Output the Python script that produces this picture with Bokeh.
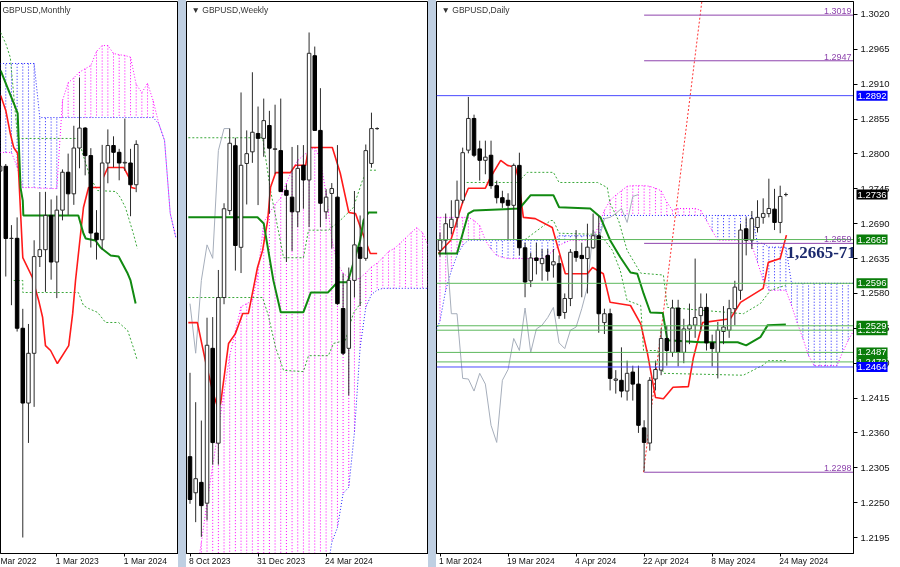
from bokeh.plotting import figure
from bokeh.layouts import row, column
from bokeh.models import Range1d, FixedTicker, Label, Div, PrintfTickFormatter
from bokeh.embed import file_html
from bokeh.resources import INLINE

FONT = "Liberation Sans"
WICK = "#2b2b2b"
RED = "#ff1a1a"
KIJUN = "#118a11"
DASH_G = "#3aa83a"
CHIKOU = "#a6aebb"
SPAN_A = "#ff00ff"
SPAN_B = "#2020ff"
SEP = "#bfcfe2"
LEVEL_G = "#5cb85c"
LEVEL_B = "#4a4aff"
LEVEL_P = "#8e44ad"
BOX_G = "#0a7d0a"

# ---------------- MONTHLY (index 0 = Mar 2023) ----------------
m_first = -10
m_open = [1.2574, 1.2603, 1.2165, 1.2166, 1.1620, 1.1166, 1.1468, 1.2055, 1.2097, 1.2305,
          1.2022, 1.2337, 1.2567, 1.2436, 1.2714, 1.2835, 1.2668, 1.2198, 1.2157, 1.2623,
          1.2729, 1.2688, 1.2623, 1.2623, 1.2491]
m_high = [1.2667, 1.2617, 1.2246, 1.2293, 1.1738, 1.1646, 1.2154, 1.2447, 1.2448, 1.2402,
          1.2425, 1.2584, 1.2680, 1.2849, 1.3142, 1.2841, 1.2713, 1.2337, 1.2733, 1.2827,
          1.2785, 1.2709, 1.2893, 1.2709, 1.2761]
m_low = [1.2155, 1.1934, 1.1760, 1.1600, 1.0350, 1.0924, 1.1143, 1.1992, 1.1841, 1.1915,
         1.1803, 1.2275, 1.2308, 1.2369, 1.2591, 1.2548, 1.2110, 1.2037, 1.2096, 1.2500,
         1.2597, 1.2518, 1.2575, 1.2300, 1.2446]
m_close = [1.2603, 1.2165, 1.2166, 1.1620, 1.1166, 1.1468, 1.2055, 1.2097, 1.2305, 1.2022,
           1.2337, 1.2567, 1.2436, 1.2714, 1.2835, 1.2668, 1.2198, 1.2157, 1.2623, 1.2729,
           1.2688, 1.2623, 1.2627, 1.2491, 1.2736]
m_span_a = [1.2687, 1.2687, 1.2687, 1.2600, 1.2474, 1.2474, 1.2474, 1.2470, 1.2470, 1.2468,
            1.2468, 1.3002, 1.3110, 1.3140, 1.3175, 1.3195, 1.3215, 1.3300, 1.3336, 1.3336,
            1.3288, 1.3280, 1.3276, 1.3265, 1.3100, 1.3050, 1.3106, 1.3000, 1.2860, 1.2760,
            1.2317, 1.2170]
m_span_b = [1.3227, 1.3227, 1.3227, 1.3227, 1.3227, 1.3227, 1.3227, 1.2899, 1.2899, 1.2899,
            1.2899, 1.2899, 1.2899, 1.2899, 1.2899, 1.2899, 1.2899, 1.2899, 1.2899, 1.2899,
            1.2899, 1.2899, 1.2899, 1.2899, 1.2899, 1.2899, 1.2899, 1.2899, 1.2860, 1.2760,
            1.2317, 1.2170]
m_tenkan_x = [-9.9, -9, -8.2, -7.6, -6.9, -6, -4.3, -3.8, -3.2, -2.5, -2, -1.1, 0.1, 2.1, 2.8,
              3.3, 4.2, 4.7, 5.6, 7.7, 8.2, 9, 11.8, 13, 13.1, 13.9]
m_tenkan = [1.3033, 1.2942, 1.2802, 1.2717, 1.2681, 1.2049, 1.1928, 1.1861, 1.1789, 1.1685,
            1.1515, 1.1485, 1.1406, 1.1515, 1.1710, 1.1910, 1.2195, 1.2353, 1.2474, 1.2474,
            1.2535, 1.2596, 1.2596, 1.2517, 1.2474, 1.2468]
m_kijun_x = [-9.9, -8.7, -7.3, -6.9, -6.7, -6.4, -6, -5.9, 3.8, 4.7, 5.1, 6.8, 7.7, 9.5, 10.9,
             12.5, 13, 13.9]
m_kijun = [1.3184, 1.3081, 1.2960, 1.2924, 1.2741, 1.2474, 1.2395, 1.2304, 1.2304, 1.2195,
           1.2165, 1.2153, 1.2110, 1.2062, 1.2056, 1.1952, 1.1910, 1.1770]
m_hl1_x = [-9.9, -9, -8.2, -6.9, 3.8, 4.5, 5.9, 7.2, 10.4, 11.2, 12.1, 13.5, 14.2]
m_hl1 = [1.3415, 1.3348, 1.3263, 1.2772, 1.2772, 1.2687, 1.2535, 1.2456, 1.2450, 1.2414,
         1.2353, 1.2195, 1.2104]
m_hl2_x = [-7.6, -6, -6, 3.8, 4.7, 5.6, 7.2, 8.6, 10.9, 12.5, 13.5, 14.2]
m_hl2 = [1.1910, 1.1910, 1.1837, 1.1837, 1.1758, 1.1740, 1.1716, 1.1655, 1.1655, 1.1606,
         1.1503, 1.1424]
m_ticks = [0, 12]
m_tick_labels = ["1 Mar 2023", "1 Mar 2024"]
m_prev_label = "Mar 2022"

# ---------------- WEEKLY (index 0 = 8 Oct 2023) ----------------
w_open = [1.2200, 1.2141, 1.2158, 1.2124, 1.2377, 1.2222, 1.2460, 1.2602, 1.2708, 1.2542,
          1.2679, 1.2698, 1.2728, 1.2720, 1.2741, 1.2702, 1.2700, 1.2635, 1.2624, 1.2600,
          1.2676, 1.2652, 1.2855, 1.2733, 1.2600, 1.2630, 1.2624, 1.2442, 1.2377, 1.2488,
          1.2542, 1.2524, 1.2679, 1.2736]
w_high = [1.2337, 1.2289, 1.2259, 1.2427, 1.2428, 1.2505, 1.2614, 1.2736, 1.2721, 1.2795,
          1.2733, 1.2828, 1.2772, 1.2785, 1.2765, 1.2775, 1.2785, 1.2645, 1.2706, 1.2709,
          1.2709, 1.2893, 1.2870, 1.2802, 1.2637, 1.2647, 1.2709, 1.2499, 1.2509, 1.2634,
          1.2594, 1.2710, 1.2762, 1.2738]
w_low = [1.2123, 1.2093, 1.2069, 1.2096, 1.2187, 1.2187, 1.2449, 1.2595, 1.2504, 1.2500,
         1.2612, 1.2680, 1.2611, 1.2690, 1.2597, 1.2662, 1.2633, 1.2518, 1.2536, 1.2575,
         1.2605, 1.2575, 1.2733, 1.2575, 1.2588, 1.2540, 1.2448, 1.2366, 1.2300, 1.2460,
         1.2446, 1.2520, 1.2672, 1.2734]
w_close = [1.2130, 1.2164, 1.2120, 1.2382, 1.2223, 1.2460, 1.2605, 1.2712, 1.2545, 1.2676,
           1.2695, 1.2730, 1.2720, 1.2749, 1.2704, 1.2703, 1.2633, 1.2627, 1.2600, 1.2671,
           1.2652, 1.2859, 1.2733, 1.2614, 1.2624, 1.2638, 1.2450, 1.2369, 1.2488, 1.2546,
           1.2524, 1.2700, 1.2736, 1.2736]
w_span_a = [1.1950, 1.2000, 1.2060, 1.2125, 1.2185, 1.2245, 1.2305, 1.2365, 1.2405, 1.2445,
            1.2450, 1.2455, 1.2500, 1.2583, 1.2598, 1.2612, 1.2623, 1.2647, 1.2668, 1.2684,
            1.2692, 1.2700, 1.2705, 1.2684, 1.2630, 1.2555, 1.2515, 1.2500, 1.2492, 1.2488,
            1.2492, 1.2500, 1.2510, 1.2516, 1.2525, 1.2535, 1.2540, 1.2548, 1.2557, 1.2566,
            1.2574, 1.2566, 1.2545, 1.2530]
w_span_b = [1.2000, 1.2000, 1.2000, 1.2000, 1.2000, 1.2000, 1.2000, 1.2000, 1.2000, 1.2000,
            1.2000, 1.2000, 1.2000, 1.2000, 1.2000, 1.2000, 1.2000, 1.2000, 1.2000, 1.2000,
            1.2000, 1.2000, 1.2000, 1.2000, 1.2000, 1.2060, 1.2084, 1.2140, 1.2150, 1.2240,
            1.2378, 1.2444, 1.2465, 1.2472, 1.2475, 1.2475, 1.2475, 1.2475, 1.2475, 1.2475,
            1.2475, 1.2475, 1.2475, 1.2475]
w_tenkan_x = [-0.3, 1.3, 2.7, 4.1, 4.9, 5.4, 6.8, 8, 9.3, 10.3, 11.9, 12.8, 13.7, 14.2, 15.1,
              17.7, 18.6, 20.4, 20.9, 25.1, 26.5, 28, 29.2, 30.4, 31.8, 33]
w_tenkan = [1.2419, 1.2419, 1.2357, 1.2303, 1.2280, 1.2287, 1.2385, 1.2401, 1.2434, 1.2434,
            1.2509, 1.2537, 1.2586, 1.2640, 1.2664, 1.2664, 1.2676, 1.2676, 1.2705, 1.2705,
            1.2663, 1.2599, 1.2597, 1.2566, 1.2532, 1.2532]
w_kijun_x = [-0.3, 11.9, 13, 13.8, 14.7, 16, 20, 21.3, 24.3, 26, 27.8, 28.8, 30, 30.6, 31.5, 33]
w_kijun = [1.2591, 1.2591, 1.2581, 1.2537, 1.2488, 1.2436, 1.2436, 1.2468, 1.2468, 1.2485,
           1.2485, 1.2516, 1.2553, 1.2586, 1.2599, 1.2599]
w_hl1_x = [-0.3, 12.8, 14.2, 16.5, 20, 20.9, 24.4, 26.5, 28.8, 30.4, 31.3, 33]
w_hl1 = [1.2721, 1.2721, 1.2635, 1.2525, 1.2525, 1.2570, 1.2570, 1.2586, 1.2607, 1.2651,
         1.2668, 1.2668]
w_hl2_x = [-0.3, 12.8, 13.8, 15.1, 16.5, 20, 20.9, 24.4, 25.3, 27.4, 28.8, 30.4]
w_hl2 = [1.2460, 1.2460, 1.2431, 1.2378, 1.2341, 1.2339, 1.2365, 1.2365, 1.2385, 1.2390,
         1.2434, 1.2455]
w_ticks = [0, 12, 24]
w_tick_labels = ["8 Oct 2023", "31 Dec 2023", "24 Mar 2024"]

# ---------------- DAILY (index 0 = 1 Mar 2024) ----------------
d_open = [1.2648, 1.2664, 1.2684, 1.2700, 1.2727, 1.2806, 1.2856, 1.2808, 1.2790, 1.2798,
          1.2750, 1.2731, 1.2727, 1.2719, 1.2782, 1.2652, 1.2600, 1.2636, 1.2627, 1.2640,
          1.2625, 1.2627, 1.2550, 1.2572, 1.2646, 1.2640, 1.2635, 1.2652, 1.2671, 1.2534,
          1.2548, 1.2443, 1.2443, 1.2426, 1.2456, 1.2437, 1.2368, 1.2344, 1.2445, 1.2459,
          1.2509, 1.2487, 1.2557, 1.2487, 1.2524, 1.2530, 1.2545, 1.2558, 1.2502, 1.2487,
          1.2520, 1.2522, 1.2556, 1.2585, 1.2682, 1.2664, 1.2684, 1.2700, 1.2706, 1.2713,
          1.2692, 1.2736]
d_high = [1.2676, 1.2706, 1.2727, 1.2758, 1.2810, 1.2890, 1.2862, 1.2821, 1.2821, 1.2821,
          1.2758, 1.2742, 1.2738, 1.2785, 1.2802, 1.2660, 1.2644, 1.2660, 1.2650, 1.2650,
          1.2650, 1.2640, 1.2580, 1.2650, 1.2680, 1.2660, 1.2690, 1.2706, 1.2702, 1.2556,
          1.2556, 1.2459, 1.2495, 1.2474, 1.2466, 1.2466, 1.2380, 1.2448, 1.2474, 1.2525,
          1.2529, 1.2570, 1.2570, 1.2540, 1.2564, 1.2635, 1.2580, 1.2580, 1.2515, 1.2535,
          1.2560, 1.2570, 1.2600, 1.2690, 1.2700, 1.2710, 1.2727, 1.2730, 1.2761, 1.2745,
          1.2750, 1.2739]
d_low = [1.2638, 1.2642, 1.2673, 1.2684, 1.2722, 1.2801, 1.2795, 1.2758, 1.2768, 1.2745,
         1.2722, 1.2715, 1.2664, 1.2666, 1.2640, 1.2574, 1.2590, 1.2610, 1.2600, 1.2600,
         1.2605, 1.2540, 1.2540, 1.2560, 1.2630, 1.2574, 1.2580, 1.2650, 1.2518, 1.2516,
         1.2427, 1.2422, 1.2416, 1.2411, 1.2411, 1.2360, 1.2299, 1.2332, 1.2427, 1.2451,
         1.2466, 1.2480, 1.2465, 1.2470, 1.2500, 1.2510, 1.2520, 1.2490, 1.2465, 1.2446,
         1.2500, 1.2510, 1.2530, 1.2570, 1.2640, 1.2650, 1.2676, 1.2690, 1.2700, 1.2680,
         1.2675, 1.2733]
d_close = [1.2664, 1.2690, 1.2697, 1.2727, 1.2802, 1.2856, 1.2798, 1.2790, 1.2795, 1.2750,
           1.2731, 1.2723, 1.2719, 1.2782, 1.2652, 1.2598, 1.2636, 1.2632, 1.2635, 1.2615,
           1.2630, 1.2545, 1.2572, 1.2645, 1.2637, 1.2635, 1.2653, 1.2671, 1.2548, 1.2548,
           1.2446, 1.2445, 1.2426, 1.2454, 1.2437, 1.2372, 1.2345, 1.2443, 1.2460, 1.2509,
           1.2490, 1.2557, 1.2487, 1.2524, 1.2530, 1.2542, 1.2558, 1.2502, 1.2493, 1.2522,
           1.2527, 1.2556, 1.2590, 1.2680, 1.2664, 1.2698, 1.2700, 1.2706, 1.2714, 1.2692,
           1.2733, 1.2736]
d_cloud_first = -1
d_span_a = [1.2700, 1.2700, 1.2700, 1.2700, 1.2700, 1.2700, 1.2700, 1.2695, 1.2687, 1.2664,
            1.2650, 1.2640, 1.2637, 1.2635, 1.2635, 1.2635, 1.2635, 1.2635, 1.2635, 1.2635,
            1.2640, 1.2648, 1.2656, 1.2660, 1.2664, 1.2664, 1.2664, 1.2664, 1.2667, 1.2687,
            1.2711, 1.2727, 1.2735, 1.2742, 1.2749, 1.2750, 1.2750, 1.2750, 1.2749, 1.2746,
            1.2742, 1.2724, 1.2711, 1.2714, 1.2714, 1.2714, 1.2714, 1.2711, 1.2695, 1.2679,
            1.2664, 1.2664, 1.2664, 1.2664, 1.2664, 1.2667, 1.2656, 1.2629, 1.2601, 1.2585,
            1.2585, 1.2585, 1.2585, 1.2561, 1.2534, 1.2509, 1.2482, 1.2466, 1.2466, 1.2466,
            1.2466, 1.2466, 1.2487, 1.2506, 1.2522, 1.2534]
d_span_b = [1.2514, 1.2537, 1.2585, 1.2616, 1.2640, 1.2656, 1.2664, 1.2664, 1.2664, 1.2664,
            1.2664, 1.2664, 1.2664, 1.2664, 1.2664, 1.2664, 1.2664, 1.2664, 1.2664, 1.2664,
            1.2664, 1.2664, 1.2671, 1.2671, 1.2671, 1.2671, 1.2671, 1.2671, 1.2671, 1.2671,
            1.2703, 1.2703, 1.2703, 1.2703, 1.2703, 1.2703, 1.2703, 1.2703, 1.2703, 1.2703,
            1.2703, 1.2703, 1.2703, 1.2703, 1.2703, 1.2703, 1.2703, 1.2703, 1.2703, 1.2703,
            1.2703, 1.2703, 1.2703, 1.2703, 1.2703, 1.2703, 1.2703, 1.2659, 1.2659, 1.2653,
            1.2653, 1.2653, 1.2653, 1.2596, 1.2596, 1.2596, 1.2596, 1.2596, 1.2596, 1.2596,
            1.2596, 1.2596, 1.2596, 1.2596, 1.2596, 1.2596]
d_tenkan_x = [-0.3, 1.9, 4.1, 5, 8, 8.9, 10.7, 11.9, 13.3, 13.8, 14.7, 16.8, 19.8, 22.1, 26,
              26.9, 28.8, 30, 33.6, 35.4, 36.6, 38, 39.4, 41.1, 43.8, 44.7, 46.3, 51.2, 53,
              57, 57.9, 60, 61.1]
d_tenkan = [1.2643, 1.2664, 1.2727, 1.2746, 1.2746, 1.2763, 1.2790, 1.2782, 1.2779, 1.2763,
            1.2700, 1.2698, 1.2684, 1.2611, 1.2611, 1.2621, 1.2611, 1.2566, 1.2561, 1.2532,
            1.2485, 1.2416, 1.2414, 1.2432, 1.2433, 1.2479, 1.2534, 1.2540, 1.2566, 1.2588,
            1.2629, 1.2635, 1.2672]
d_kijun_x = [-0.3, 3, 5, 6, 14, 16, 20, 21, 26.5, 28.3, 30, 31.8, 33.6, 34.8, 35.9, 37.1,
             39.3, 40.1, 46, 52.5, 54, 56.5, 57.8, 61]
d_kijun = [1.2643, 1.2643, 1.2706, 1.2711, 1.2714, 1.2735, 1.2735, 1.2716, 1.2714, 1.2700,
           1.2664, 1.2637, 1.2613, 1.2611, 1.2580, 1.2550, 1.2549, 1.2506, 1.2503, 1.2503,
           1.2498, 1.2511, 1.2530, 1.2531]
d_hl1_x = [4, 13.7, 15.4, 20, 21, 27.8, 29.5, 30, 31.5, 33, 35.4, 39.4, 40.1, 53.5, 56.5, 58.3, 61]
d_hl1 = [1.2755, 1.2755, 1.2771, 1.2771, 1.2755, 1.2755, 1.2747, 1.2722, 1.2695, 1.2648,
         1.2612, 1.2609, 1.2558, 1.2548, 1.2564, 1.2585, 1.2593]
d_hl2_x = [15, 19.5, 20, 21, 28.3, 30.4, 31.8, 33, 35.4, 35.9, 38.4, 39.4, 53.5, 57, 57.9, 61]
d_hl2 = [1.2665, 1.2695, 1.2695, 1.2675, 1.2673, 1.2648, 1.2616, 1.2569, 1.2561, 1.2490,
         1.2490, 1.2454, 1.2451, 1.2467, 1.2474, 1.2474]
d_target_x = [35.9, 46.3]
d_target = [1.2298, 1.3049]
d_ticks = [0, 12, 24, 36, 48, 60]
d_tick_labels = ["1 Mar 2024", "19 Mar 2024", "4 Apr 2024", "22 Apr 2024", "8 May 2024", "24 May 2024"]
d_price_ticks = [1.2195, 1.2250, 1.2305, 1.2360, 1.2415, 1.2470, 1.2525, 1.2580, 1.2635, 1.2690,
                 1.2745, 1.2800, 1.2855, 1.2910, 1.2965, 1.3020]
d_levels_green = [1.2665, 1.2596, 1.2529, 1.2522, 1.2487, 1.2472]
d_levels_blue = [1.2892, 1.2464]
d_levels_purple = [1.3019, 1.2947, 1.2659, 1.2298]
d_purple_from = 36
d_boxes = [(1.2892, "#0000ff"), (1.2736, "#000000"), (1.2665, BOX_G), (1.2596, BOX_G),
           (1.2522, BOX_G), (1.2529, BOX_G), (1.2472, BOX_G), (1.2487, BOX_G), (1.2464, "#0000ff")]
zone_text = "1,2665-71"
zone_x, zone_y = 61.1, 1.2645

# ---------------- geometry ----------------
FRAME_H = 552
BOTTOM = 14
M_XR = Range1d(-9.93, 21.46)
M_YR = Range1d(1.02529, 1.36033)
W_XR = Range1d(-0.62, 42.06)
W_YR = Range1d(1.20418, 1.29436)
D_XR = Range1d(-0.62, 72.93)
D_YR = Range1d(1.21698, 1.30405)


def base_fig(frame_w, xr, yr, right_axis=False):
    p = figure(frame_width=frame_w, frame_height=FRAME_H, x_range=xr, y_range=yr,
               output_backend="svg", toolbar_location=None, tools="",
               y_axis_location=("right" if right_axis else None),
               min_border_left=0, min_border_right=(47 if right_axis else 0),
               min_border_top=1, min_border_bottom=BOTTOM,
               background_fill_color="white", border_fill_color="white",
               outline_line_color="black", outline_line_width=1)
    p.grid.visible = False
    ax = p.xaxis[0]
    ax.axis_line_color = "black"
    ax.major_tick_in = 0
    ax.major_tick_out = 3
    ax.minor_tick_in = 0
    ax.minor_tick_out = 0
    ax.major_label_text_color = None
    return p


def set_xticks(p, ticks):
    p.xaxis[0].ticker = FixedTicker(ticks=ticks)


def label_strip(frame_w, xr, left, ticks, labels, extra=None):
    """Transparent strip under a panel holding left-aligned date labels."""
    s = figure(frame_width=frame_w, frame_height=13, x_range=xr, y_range=Range1d(0, 1),
               output_backend="svg", toolbar_location=None, tools="",
               x_axis_location=None, y_axis_location=None,
               min_border_left=0, min_border_right=0, min_border_top=0, min_border_bottom=0,
               background_fill_color=None, border_fill_color=None, outline_line_color=None,
               styles={"position": "fixed", "left": f"{left}px", "top": "554px"})
    s.grid.visible = False
    for t, txt in zip(ticks, labels):
        s.add_layout(Label(x=t, y=0.5, x_offset=-1, text=txt, text_font=FONT,
                           text_font_size="8.5px", text_color="#111111",
                           text_align="left", text_baseline="middle"))
    if extra is not None:
        s.add_layout(Label(x=xr.start, y=0.5, x_offset=0, text=extra, text_font=FONT,
                           text_font_size="8.5px", text_color="#111111",
                           text_align="left", text_baseline="middle"))
    return s


def draw_cloud(p, first, a, b):
    xs = [first + k for k in range(len(a))]
    pk = [k for k in range(len(a)) if a[k] >= b[k]]
    bl = [k for k in range(len(a)) if a[k] < b[k]]
    p.segment(x0=[xs[k] for k in pk], y0=[a[k] for k in pk], x1=[xs[k] for k in pk],
              y1=[b[k] for k in pk], line_color=SPAN_A, line_dash="1 2", line_width=1)
    p.segment(x0=[xs[k] for k in bl], y0=[a[k] for k in bl], x1=[xs[k] for k in bl],
              y1=[b[k] for k in bl], line_color=SPAN_B, line_dash="1 2", line_width=1)
    p.line(xs, a, line_color=SPAN_A, line_dash="1 2", line_width=1)
    p.line(xs, b, line_color=SPAN_B, line_dash="1 2", line_width=1)


def draw_candles(p, first, o, h, l, c):
    xs = [first + k for k in range(len(o))]
    p.segment(x0=xs, y0=l, x1=xs, y1=h, line_color=WICK, line_width=1)
    up = [k for k in range(len(o)) if c[k] >= o[k]]
    dn = [k for k in range(len(o)) if c[k] < o[k]]
    p.vbar(x=[xs[k] for k in up], bottom=[o[k] for k in up], top=[c[k] for k in up],
           width=0.62, fill_color="white", line_color=WICK, line_width=1)
    p.vbar(x=[xs[k] for k in dn], bottom=[c[k] for k in dn], top=[o[k] for k in dn],
           width=0.62, fill_color="black", line_color="black", line_width=1)


def title(p, xr, yr, text, dx):
    p.add_layout(Label(x=xr.start, y=yr.end, x_offset=dx, y_offset=-3, text=text,
                       text_font=FONT, text_font_size="8.5px", text_color="#333333",
                       text_baseline="top", text_align="left"))


# ---------------- monthly panel ----------------
p1 = base_fig(178, M_XR, M_YR)
set_xticks(p1, m_ticks)
draw_cloud(p1, m_first, m_span_a, m_span_b)
p1.line(m_hl1_x, m_hl1, line_color=DASH_G, line_dash="2 2", line_width=1)
p1.line(m_hl2_x, m_hl2, line_color=DASH_G, line_dash="2 2", line_width=1)
p1.line(m_tenkan_x, m_tenkan, line_color=RED, line_width=1.6)
p1.line(m_kijun_x, m_kijun, line_color=KIJUN, line_width=2)
draw_candles(p1, m_first, m_open, m_high, m_low, m_close)
title(p1, M_XR, M_YR, "GBPUSD,Monthly", 2)

# ---------------- weekly panel ----------------
p2 = base_fig(242, W_XR, W_YR)
set_xticks(p2, w_ticks)
draw_cloud(p2, 0, w_span_a, w_span_b)
p2.line(w_hl1_x, w_hl1, line_color=DASH_G, line_dash="2 2", line_width=1)
p2.line(w_hl2_x, w_hl2, line_color=DASH_G, line_dash="2 2", line_width=1)
w_chikou = w_close[26:]
p2.line(list(range(len(w_chikou))), w_chikou, line_color=CHIKOU, line_width=1)
p2.line(w_tenkan_x, w_tenkan, line_color=RED, line_width=1.6)
p2.line(w_kijun_x, w_kijun, line_color=KIJUN, line_width=2)
draw_candles(p2, 0, w_open, w_high, w_low, w_close)
title(p2, W_XR, W_YR, "\u25BC GBPUSD,Weekly", 5)

# ---------------- daily panel ----------------
p3 = base_fig(417, D_XR, D_YR, right_axis=True)
set_xticks(p3, d_ticks)
ya = p3.yaxis[0]
ya.ticker = FixedTicker(ticks=d_price_ticks)
ya.formatter = PrintfTickFormatter(format="%.4f")
ya.axis_line_color = "black"
ya.major_tick_in = 0
ya.major_tick_out = 4
ya.minor_tick_in = 0
ya.minor_tick_out = 0
ya.major_label_text_font = FONT
ya.major_label_text_font_size = "9.5px"
ya.major_label_text_color = "#111111"
ya.major_label_standoff = 3

draw_cloud(p3, d_cloud_first, d_span_a, d_span_b)
p3.line(d_hl1_x, d_hl1, line_color=DASH_G, line_dash="2 2", line_width=1)
p3.line(d_hl2_x, d_hl2, line_color=DASH_G, line_dash="2 2", line_width=1)
d_chikou = d_close[26:]
p3.line(list(range(len(d_chikou))), d_chikou, line_color=CHIKOU, line_width=1)
p3.line(d_target_x, d_target, line_color="#ff3030", line_dash="2 2", line_width=1)
p3.line(d_tenkan_x, d_tenkan, line_color=RED, line_width=1.6)
p3.line(d_kijun_x, d_kijun, line_color=KIJUN, line_width=2)
draw_candles(p3, 0, d_open, d_high, d_low, d_close)

n = len(d_levels_green)
p3.segment(x0=[D_XR.start] * n, y0=d_levels_green, x1=[D_XR.end] * n, y1=d_levels_green,
           line_color=LEVEL_G, line_width=1)
n = len(d_levels_blue)
p3.segment(x0=[D_XR.start] * n, y0=d_levels_blue, x1=[D_XR.end] * n, y1=d_levels_blue,
           line_color=LEVEL_B, line_width=1)
n = len(d_levels_purple)
p3.segment(x0=[d_purple_from] * n, y0=d_levels_purple, x1=[D_XR.end] * n, y1=d_levels_purple,
           line_color=LEVEL_P, line_width=1)
for v in d_levels_purple:
    p3.add_layout(Label(x=D_XR.end, y=v, x_offset=-2, y_offset=1, text=f"{v:.4f}",
                        text_font=FONT, text_font_size="9px", text_color=LEVEL_P,
                        text_align="right", text_baseline="bottom"))
p3.add_layout(Label(x=zone_x, y=zone_y, text=zone_text, text_font="Liberation Serif",
                    text_font_size="17px", text_font_style="bold", text_color="#1c2a6e",
                    text_align="left", text_baseline="middle"))
title(p3, D_XR, D_YR, "\u25BC GBPUSD,Daily", 5)

# price boxes sitting on the right price scale (transparent overlay sharing the y range)
boxes = figure(frame_width=47, frame_height=FRAME_H, x_range=Range1d(0, 47), y_range=D_YR,
               output_backend="svg", toolbar_location=None, tools="",
               x_axis_location=None, y_axis_location=None,
               min_border_left=0, min_border_right=0, min_border_top=1, min_border_bottom=BOTTOM,
               background_fill_color=None, border_fill_color=None, outline_line_color=None,
               styles={"position": "fixed", "left": "853px", "top": "0px"})
boxes.grid.visible = False
for v, col in d_boxes:
    boxes.add_layout(Label(x=0, y=v, x_offset=3, text=f"{v:.4f}", text_color="white",
                           text_font=FONT, text_font_size="9.5px", text_align="left",
                           text_baseline="middle", background_fill_color=col,
                           padding=(1, 2)))

s1 = label_strip(178, M_XR, 0, m_ticks, m_tick_labels, extra=m_prev_label)
s2 = label_strip(242, W_XR, 186, w_ticks, w_tick_labels)
s3 = label_strip(417, D_XR, 436, d_ticks, d_tick_labels)

sep1 = Div(text="", width=8, height=567, margin=0, styles={"background-color": SEP})
sep2 = Div(text="", width=8, height=567, margin=0, styles={"background-color": SEP})

main = row(p1, sep1, p2, sep2, p3, spacing=0,
           styles={"position": "fixed", "left": "0px", "top": "0px"})
layout = column(main, s1, s2, s3, boxes, spacing=0)

open("out.html", "w").write(file_html(layout, INLINE))
